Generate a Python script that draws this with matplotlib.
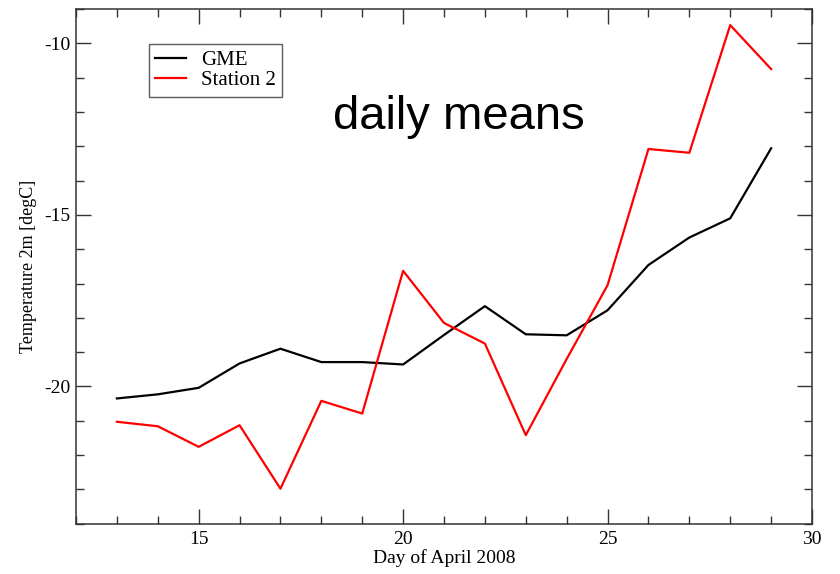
import matplotlib
matplotlib.use("Agg")
import matplotlib.pyplot as plt
from matplotlib.ticker import MultipleLocator

# daily mean 2m temperature, April 2008
days = [13, 14, 15, 16, 17, 18, 19, 20, 21, 22, 23, 24, 25, 26, 27, 28, 29]
gme = [-20.35, -20.23, -20.04, -19.33, -18.90, -19.29, -19.29, -19.36, -18.50,
       -17.66, -18.48, -18.51, -17.78, -16.46, -15.66, -15.10, -13.06]
station2 = [-21.03, -21.16, -21.76, -21.13, -22.98, -20.42, -20.79, -16.63, -18.15,
            -18.75, -21.42, -19.20, -17.05, -13.08, -13.19, -9.47, -10.75]
series_names = ["GME", "Station 2"]

plt.rcParams['font.family'] = ['Liberation Serif', 'DejaVu Serif']
plt.rcParams['axes.unicode_minus'] = False

fig = plt.figure(figsize=(8.4, 5.74), dpi=100)
ax = fig.add_axes([76 / 840, 1 - 523.7 / 574, 736 / 840, 514.7 / 574])

ax.plot(days, gme, color='black', lw=1.6, label=series_names[0])
ax.plot(days, station2, color='red', lw=1.6, label=series_names[1])

ax.set_xlim(12, 30)
ax.set_ylim(-24, -9)
ax.xaxis.set_major_locator(MultipleLocator(5))
ax.xaxis.set_minor_locator(MultipleLocator(1))
ax.yaxis.set_major_locator(MultipleLocator(5))
ax.yaxis.set_minor_locator(MultipleLocator(1))
ax.tick_params(which='both', direction='in', top=True, right=True,
               color='#333333', width=1.0, labelsize=14)
ax.tick_params(axis='x', pad=5)
ax.tick_params(axis='y', pad=4)
ax.tick_params(which='major', length=11)
ax.tick_params(which='minor', length=6)
for sp in ax.spines.values():
    sp.set_color('#333333')
    sp.set_linewidth(1.1)

ax.set_xlabel("Day of April 2008", fontsize=14, labelpad=1)
ax.set_ylabel("Temperature 2m [degC]", fontsize=13, labelpad=5)

leg = ax.legend(loc='upper left', bbox_to_anchor=(0.099, 0.932), borderaxespad=0,
                fontsize=15, handlelength=1.5, handletextpad=0.7, labelspacing=0.05,
                borderpad=0.3, fancybox=False, frameon=True)
leg.get_frame().set_edgecolor('#333333')
leg.get_frame().set_linewidth(1.0)

ax.text(0.520, 0.767, "daily means", transform=ax.transAxes, ha='center',
        va='baseline', fontsize=34, family=['Liberation Sans', 'DejaVu Sans'])

fig.savefig("out.png", dpi=100)
